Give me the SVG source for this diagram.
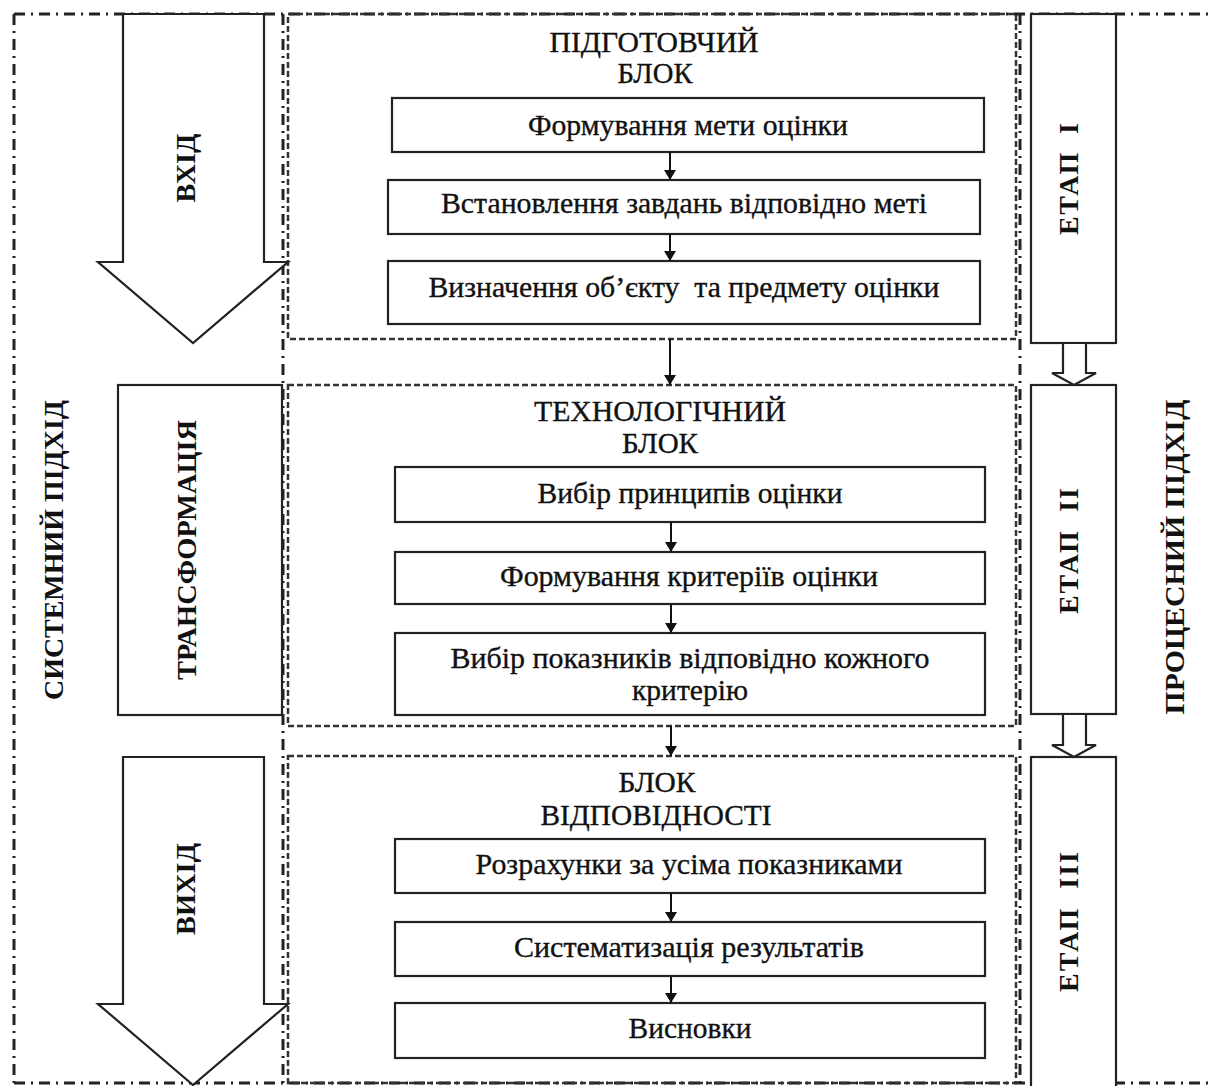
<svg xmlns="http://www.w3.org/2000/svg" width="1213" height="1086" viewBox="0 0 1213 1086">
<style>
.bg{fill:#fff}
.dd{fill:none;stroke:#222;stroke-width:3;stroke-dasharray:11 6 2 6}
.ds{fill:none;stroke:#333;stroke-width:2.5;stroke-dasharray:6 3}
.box{fill:#fff;stroke:#222;stroke-width:2.2}
.shape{fill:#fff;stroke:#222;stroke-width:2.2}
.conn{fill:none;stroke:#111;stroke-width:2}
.t{font-family:"Liberation Serif","Times New Roman",serif;font-size:29px;fill:#111;stroke:#111;stroke-width:0.35;text-anchor:middle}
.r{font-family:"Liberation Serif","Times New Roman",serif;font-size:28px;font-weight:bold;fill:#111;text-anchor:middle;white-space:pre}
</style>
<defs>
<marker id="ah" markerWidth="10" markerHeight="12" refX="10" refY="6" orient="auto" markerUnits="userSpaceOnUse">
<path d="M0,0 L10,6 L0,12 Z" fill="#111"/>
</marker>
</defs>
<rect class="bg" x="0" y="0" width="1213" height="1086"/>

<g id="frames">
<path class="dd" d="M14,14 H1213 M14,14 V1083 M14,1083 H1213 M283,14 V1083 M1020,14 V1083"/>
<rect class="ds" x="288" y="14" width="728" height="325"/>
<rect class="ds" x="288" y="385" width="728" height="341"/>
<rect class="ds" x="288" y="756" width="728" height="327"/>
</g>

<g id="input-arrow">
<polygon class="shape" points="123,14 264,14 264,262 288,262 193,343 98,262 123,262"/>
<text class="r" transform="translate(195,168) rotate(-90)" textLength="69" lengthAdjust="spacingAndGlyphs">ВХІД</text>
</g>
<g id="transformation">
<rect class="shape" x="118" y="385" width="164" height="330"/>
<text class="r" transform="translate(196,550) rotate(-90)" textLength="260" lengthAdjust="spacingAndGlyphs">ТРАНСФОРМАЦІЯ</text>
</g>
<g id="output-arrow">
<polygon class="shape" points="123,757 264,757 264,1004 288,1004 193,1085 98,1004 123,1004"/>
<text class="r" transform="translate(195,889) rotate(-90)" textLength="92" lengthAdjust="spacingAndGlyphs">ВИХІД</text>
</g>
<g id="system-approach">
<text class="r" transform="translate(63,550) rotate(-90)" textLength="300" lengthAdjust="spacingAndGlyphs">СИСТЕМНИЙ ПІДХІД</text>
</g>
<g id="process-approach">
<text class="r" transform="translate(1184,557) rotate(-90)" textLength="315" lengthAdjust="spacingAndGlyphs">ПРОЦЕСНИЙ ПІДХІД</text>
</g>

<g id="stage1">
<rect class="shape" x="1031" y="14" width="85" height="329"/>
<text class="r" transform="translate(1078,179) rotate(-90)" textLength="112" lengthAdjust="spacing">ЕТАП  І</text>
</g>
<g id="stage2">
<rect class="shape" x="1031" y="385" width="85" height="329"/>
<text class="r" transform="translate(1078,551) rotate(-90)" textLength="126" lengthAdjust="spacing">ЕТАП  ІІ</text>
</g>
<g id="stage3">
<rect class="shape" x="1031" y="757" width="85" height="335"/>
<text class="r" transform="translate(1078,922) rotate(-90)" textLength="140" lengthAdjust="spacing">ЕТАП  ІІІ</text>
</g>

<g id="block1-title">
<text class="t" x="654" y="52" textLength="209" lengthAdjust="spacingAndGlyphs">ПІДГОТОВЧИЙ</text>
<text class="t" x="655" y="83" textLength="75" lengthAdjust="spacingAndGlyphs">БЛОК</text>
</g>
<g id="b1"><rect class="box" x="392" y="98" width="592" height="54"/><text class="t" x="688" y="135" textLength="320" lengthAdjust="spacingAndGlyphs">Формування мети оцінки</text></g>
<g id="b2"><rect class="box" x="388" y="180" width="592" height="54"/><text class="t" x="684" y="213" textLength="486" lengthAdjust="spacingAndGlyphs">Встановлення завдань відповідно меті</text></g>
<g id="b3"><rect class="box" x="388" y="261" width="592" height="63"/><text class="t" x="684" y="297" textLength="511" lengthAdjust="spacingAndGlyphs" style="white-space:pre">Визначення об’єкту  та предмету оцінки</text></g>

<g id="block2-title">
<text class="t" x="660" y="421" textLength="252" lengthAdjust="spacingAndGlyphs">ТЕХНОЛОГІЧНИЙ</text>
<text class="t" x="660" y="453" textLength="76" lengthAdjust="spacingAndGlyphs">БЛОК</text>
</g>
<g id="c1"><rect class="box" x="395" y="467" width="590" height="55"/><text class="t" x="690" y="503" textLength="305" lengthAdjust="spacingAndGlyphs">Вибір принципів оцінки</text></g>
<g id="c2"><rect class="box" x="395" y="552" width="590" height="52"/><text class="t" x="689" y="586" textLength="378" lengthAdjust="spacingAndGlyphs">Формування критеріїв оцінки</text></g>
<g id="c3"><rect class="box" x="395" y="633" width="590" height="82"/><text class="t" x="690" y="668" textLength="479" lengthAdjust="spacingAndGlyphs">Вибір показників відповідно кожного</text><text class="t" x="690" y="700" textLength="116" lengthAdjust="spacingAndGlyphs">критерію</text></g>

<g id="block3-title">
<text class="t" x="657" y="792" textLength="77" lengthAdjust="spacingAndGlyphs">БЛОК</text>
<text class="t" x="656" y="825" textLength="231" lengthAdjust="spacingAndGlyphs">ВІДПОВІДНОСТІ</text>
</g>
<g id="d1"><rect class="box" x="395" y="839" width="590" height="54"/><text class="t" x="689" y="874" textLength="427" lengthAdjust="spacingAndGlyphs">Розрахунки за усіма показниками</text></g>
<g id="d2"><rect class="box" x="395" y="922" width="590" height="54"/><text class="t" x="689" y="957" textLength="350" lengthAdjust="spacingAndGlyphs">Систематизація результатів</text></g>
<g id="d3"><rect class="box" x="395" y="1003" width="590" height="55"/><text class="t" x="690" y="1038" textLength="123" lengthAdjust="spacingAndGlyphs">Висновки</text></g>

<g id="connectors">
<path class="conn" marker-end="url(#ah)" d="M670,152 V180"/>
<path class="conn" marker-end="url(#ah)" d="M670,234 V261"/>
<path class="conn" marker-end="url(#ah)" d="M670,339 V385"/>
<path class="conn" marker-end="url(#ah)" d="M671,522 V552"/>
<path class="conn" marker-end="url(#ah)" d="M671,604 V633"/>
<path class="conn" marker-end="url(#ah)" d="M671,726 V756"/>
<path class="conn" marker-end="url(#ah)" d="M671,893 V922"/>
<path class="conn" marker-end="url(#ah)" d="M671,976 V1003"/>
<polygon class="shape" points="1063,343 1086,343 1086,373 1096,373 1074,385 1052,373 1063,373"/>
<polygon class="shape" points="1063,714 1086,714 1086,745 1096,745 1074,757 1052,745 1063,745"/>
</g>
</svg>
